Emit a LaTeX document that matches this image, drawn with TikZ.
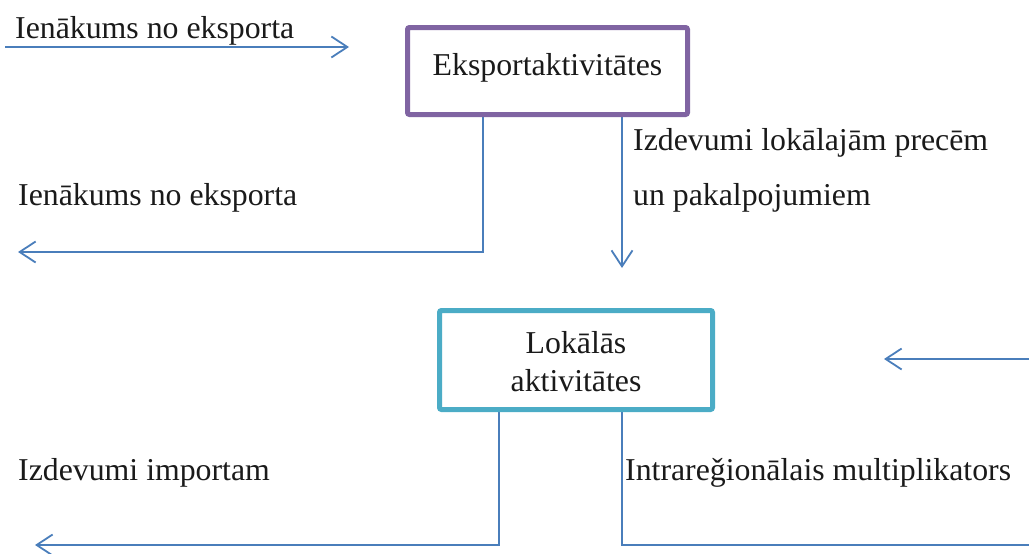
\documentclass[tikz,border=0pt]{standalone}
\usepackage{fontspec}
\setmainfont{Liberation Serif}
\usetikzlibrary{arrows.meta}
\definecolor{lineblue}{HTML}{4A7EBB}
\definecolor{boxpurple}{HTML}{8064A2}
\definecolor{boxteal}{HTML}{4BACC6}
\definecolor{txt}{HTML}{1A1A1A}
\tikzset{
  conn/.style={draw=lineblue, line width=1.8pt},
  arr/.style={conn, -{Straight Barb[length=16pt,width=21pt,line width=1.8pt]}},
  lbl/.style={anchor=base west, inner sep=0pt, text=txt, font=\fontsize{31.8}{38}\selectfont},
  boxtext/.style={anchor=base, inner sep=0pt, text=txt, font=\fontsize{31.8}{38}\selectfont},
  actbox/.style={draw, line width=5pt, fill=white, rounded corners=2pt, inner sep=0pt}
}
\begin{document}
\begin{tikzpicture}[x=1pt,y=-1pt]
\useasboundingbox (0,0) rectangle (1029,554);
% free ends
\coordinate (a1s) at (5,47);
\coordinate (a1e) at (349,47);
\coordinate (a2e) at (18,252);
\coordinate (a3e) at (622,268);
\coordinate (a4s) at (1029,359);
\coordinate (a4e) at (884,359);
\coordinate (a5e) at (35,545);
\coordinate (a6e) at (1029,545);
\coordinate (d1) at (483,0);
\coordinate (d2) at (499,0);
\coordinate (d3) at (622,0);
% connectors (drawn first, boxes cover their starts)
\draw[arr] (a1s) -- (a1e);
\draw[arr] (d1 |- 0,115) |- (a2e);
\draw[arr] (a3e |- 0,115) -- (a3e);
\draw[arr] (a4s) -- (a4e);
\draw[arr] (d2 |- 0,410) |- (a5e);
\draw[conn] (d3 |- 0,410) |- (a6e);
% boxes
\node[actbox, draw=boxpurple, minimum width=280pt, minimum height=87pt] (exp) at (547.5,71) {};
\node[actbox, draw=boxteal, minimum width=273pt, minimum height=99pt] (loc) at (576,360) {};
\node[boxtext] (expt) at (547.5,75) {Eksportaktivit\={a}tes};
\node[boxtext] (loct1) at (576,353) {Lok\={a}l\={a}s};
\node[boxtext] (loct2) at (576,391) {aktivit\={a}tes};
% labels
\node[lbl] (l1) at (15,38) {Ien\={a}kums no eksporta};
\node[lbl] (l2) at (18,205) {Ien\={a}kums no eksporta};
\node[lbl] (l3) at (633,150) {Izdevumi lok\={a}laj\={a}m prec\={e}m};
\node[lbl] (l4) at (633,205) {un pakalpojumiem};
\node[lbl] (l5) at (18,480) {Izdevumi importam};
\node[lbl] (l6) at (625,480) {Intrare\v{g}ion\={a}lais multiplikators};
\end{tikzpicture}
\end{document}
